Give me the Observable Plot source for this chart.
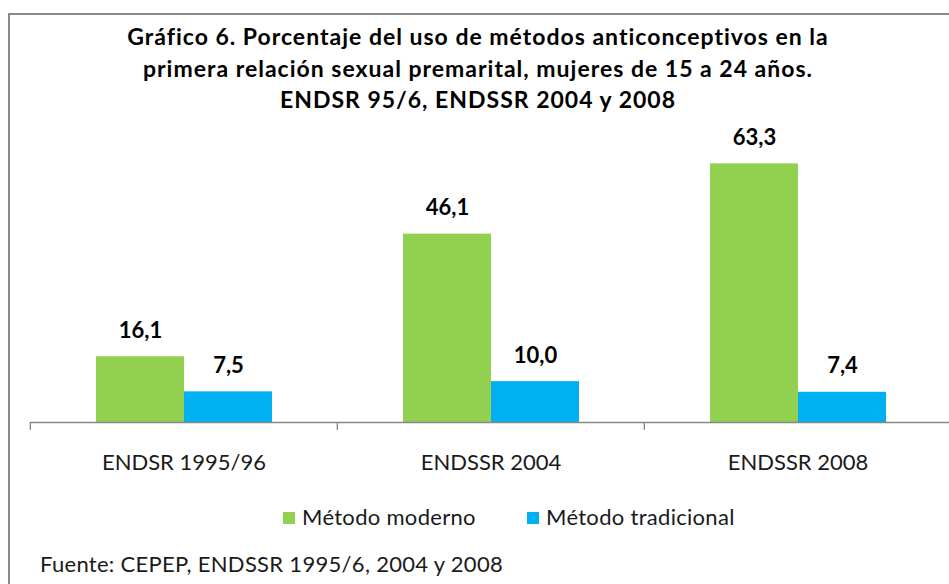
<!DOCTYPE html>
<html>
<head>
<meta charset="utf-8">
<script src="https://cdn.jsdelivr.net/npm/d3@7"></script>
<script src="https://cdn.jsdelivr.net/npm/@observablehq/plot@0.6"></script>
<style>
  html, body { margin: 0; padding: 0; background: #fff; }
  #wrap { position: relative; width: 949px; height: 584px; overflow: hidden; font-family: Lato, "Open Sans", sans-serif; color: #000; }
  #border { position: absolute; left: 8px; top: 13px; width: 1000px; height: 700px; border-left: 2px solid #8a8a8a; border-top: 2px solid #8a8a8a; box-sizing: border-box; }
  #title { position: absolute; left: 0px; width: 956px; top: 21px; text-align: center; font-weight: bold; font-size: 23px; letter-spacing: 1px; line-height: 31.5px; }
  #chart { position: absolute; left: 0; top: 120px; }
  #legend { position: absolute; left: 0; width: 949px; top: 503px; font-size: 22px; letter-spacing: 0.3px; color: #1a1a1a; }
  .item { position: absolute; top: 0; white-space: nowrap; }
  .sw { display: inline-block; width: 12px; height: 12px; margin-right: 7px; vertical-align: 1px; }
  #caption { position: absolute; left: 40px; top: 550px; font-size: 22px; letter-spacing: 0.3px; color: #1a1a1a; }
</style>
</head>
<body>
<div id="wrap">
  <div id="border"></div>
  <div id="title">Gráfico 6. Porcentaje del uso de métodos anticonceptivos en la<br>primera relación sexual premarital, mujeres de 15 a 24 años.<br>ENDSR 95/6, ENDSSR 2004 y 2008</div>
  <div id="chart"></div>
  <div id="legend"></div>
  <div id="caption">Fuente: CEPEP, ENDSSR 1995/6, 2004 y 2008</div>
</div>
<script>
const surveys = ["ENDSR 1995/96", "ENDSSR 2004", "ENDSSR 2008"];
const series = ["Método moderno", "Método tradicional"];
const moderno = [16.1, 46.1, 63.3];
const tradicional = [7.5, 10.0, 7.4];
const colors = ["#92D050", "#00B0F0"];

const data = [];
surveys.forEach((s, i) => {
  data.push({survey: s, serie: series[0], value: moderno[i]});
  data.push({survey: s, serie: series[1], value: tradicional[i]});
});

const W = 949, marginLeft = 29, marginRight = -2;
const facetW = (W - marginLeft - marginRight) / surveys.length;
const fmt = v => v.toFixed(1).replace(".", ",");

const chart = Plot.plot({
  width: W,
  height: 370,
  marginLeft, marginRight,
  marginTop: 16,
  marginBottom: 68,
  style: {fontFamily: "Lato, 'Open Sans', sans-serif", overflow: "visible", background: "transparent"},
  fx: {domain: surveys, padding: 0, axis: null, label: null},
  x: {domain: series, paddingInner: 0, paddingOuter: 0.744, axis: null},
  y: {domain: [0, 70], axis: null},
  color: {domain: series, range: colors},
  marks: [
    Plot.barY(data, {fx: "survey", x: "serie", y: "value", fill: "serie"}),
    Plot.ruleY([0], {stroke: "#868686", strokeWidth: 1.3}),
    Plot.axisFx({anchor: "bottom", label: null, tickSize: 8, text: null, dx: -facetW / 2, stroke: "#868686", strokeWidth: 1.3}),
    Plot.axisFx({anchor: "bottom", label: null, tickSize: 0, tickPadding: 32, fontSize: 22, fill: "#1a1a1a", style: "letter-spacing:0.3px"}),
    Plot.text(data, {fx: "survey", x: "serie", y: "value", text: d => fmt(d.value), dy: -26, fontSize: 22, fontWeight: "bold", fill: "#000", style: "letter-spacing:0.8px"})
  ]
});
document.getElementById("chart").appendChild(chart);

const legend = document.getElementById("legend");
const lx = [283, 527];
series.forEach((s, i) => {
  const it = document.createElement("div");
  it.className = "item";
  it.style.left = lx[i] + "px";
  it.innerHTML = `<span class="sw" style="background:${colors[i]}"></span>${s}`;
  legend.appendChild(it);
});
</script>
</body>
</html>
